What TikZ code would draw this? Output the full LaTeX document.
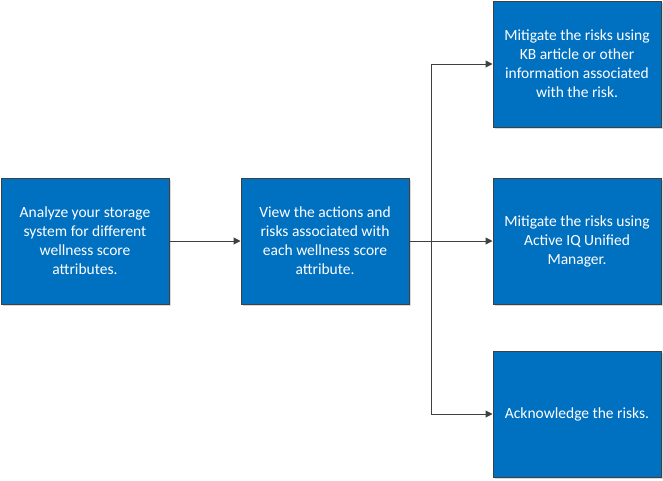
\documentclass[tikz,border=0pt]{standalone}
\usepackage{fontspec}
\setmainfont{Carlito}
\usetikzlibrary{arrows.meta}
\definecolor{boxblue}{HTML}{0070C0}
\definecolor{edge}{HTML}{404040}
\definecolor{shadow}{HTML}{D9D9D9}
\begin{document}
\begin{tikzpicture}[x=1pt,y=-1pt,
  box/.style={draw=edge,line width=1pt,fill=boxblue,text=white,minimum width=168pt,minimum height=126pt,
    align=center,font=\fontsize{15.5}{19}\selectfont,anchor=north west,inner sep=0pt,
    preaction={fill=shadow,transform canvas={shift={(2pt,-2pt)}}}},
  conn/.style={draw=edge,line width=1pt,-{Triangle[length=7pt,width=7pt]}}]
\useasboundingbox (0,0) rectangle (663,480);
\node[box] (a) at (0.5,177.5) {Analyze your storage\\system for different\\wellness score\\attributes.};
\node[box] (b) at (240.5,177.5) {View the actions and\\risks associated with\\each wellness score\\attribute.};
\node[box] (c) at (492.5,0.5) {Mitigate the risks using\\KB article or other\\information associated\\with the risk.};
\node[box] (d) at (492.5,177.5) {Mitigate the risks using\\Active IQ Unified\\Manager.};
\node[box] (e) at (492.5,350.5) {Acknowledge the risks.};
\coordinate (j) at (431.5,240.5);
\draw[conn] (a) -- (b);
\draw[conn] (b.east) -- (d.west);
\draw[conn] (j) |- (c.west);
\draw[conn] (j) |- (e.west);
\end{tikzpicture}
\end{document}
